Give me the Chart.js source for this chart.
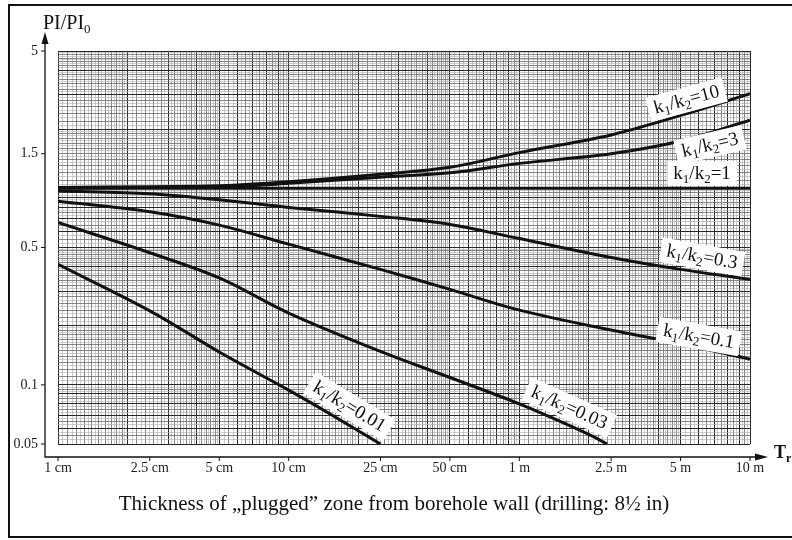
<!DOCTYPE html>
<html>
<head>
<meta charset="utf-8">
<script src="https://cdn.jsdelivr.net/npm/chart.js@4.4.1/dist/chart.umd.min.js"></script>
<style>
    html, body { margin: 0; padding: 0; background: #fff; }
    #wrap { width: 792px; height: 540px; position: relative; }
</style>
</head>
<body>
<div id="wrap"><canvas id="piChart"></canvas></div>
<script>
// Thickness of plugged zone (m)
const thickness = [0.01, 0.025, 0.05, 0.1, 0.25, 0.5, 1, 2.5, 5, 10];
const thickness003 = [0.01, 0.025, 0.05, 0.1, 0.25, 0.5, 1, 2, 2.4];
const thickness001 = [0.01, 0.025, 0.05, 0.1, 0.15, 0.25];

// PI/PI0, one array per k1/k2
const ratio10 = [1.01, 1.02, 1.03, 1.08, 1.18, 1.28, 1.52, 1.87, 2.35, 3.03];
const ratio3 = [1.005, 1.01, 1.015, 1.06, 1.14, 1.2, 1.34, 1.5, 1.74, 2.22];
const ratio1 = [1, 1, 1, 1, 1, 1, 1, 1, 1, 1];
const ratio03 = [0.97, 0.94, 0.875, 0.8, 0.72, 0.655, 0.555, 0.445, 0.387, 0.344];
const ratio01 = [0.86, 0.76, 0.65, 0.52, 0.387, 0.306, 0.24, 0.19, 0.162, 0.135];
const ratio003 = [0.67, 0.47, 0.35, 0.232, 0.148, 0.109, 0.08, 0.056, 0.05];
const ratio001 = [0.41, 0.238, 0.147, 0.094, 0.0715, 0.05];

// Axis tick labels
const xTickValues = [0.01, 0.025, 0.05, 0.1, 0.25, 0.5, 1, 2.5, 5, 10];
const xTickLabels = ['1 cm', '2.5 cm', '5 cm', '10 cm', '25 cm', '50 cm', '1 m', '2.5 m', '5 m', '10 m'];
const yTickValues = [0.05, 0.1, 0.5, 1.5, 5];
const yTickLabels = ['0.05', '0.1', '0.5', '1.5', '5'];

// Where the k1/k2 labels sit (data coords) and their tilt
const curveLabels = [
    { name: '10', x: 5.3, y: 2.84, angle: -15 },
    { name: '3', x: 6.7, y: 1.67, angle: -13 },
    { name: '1', x: 6.2, y: 1.2, angle: 0 },
    { name: '0.3', x: 6.2, y: 0.45, angle: 10 },
    { name: '0.1', x: 6.0, y: 0.177, angle: 10 },
    { name: '0.03', x: 1.65, y: 0.077, angle: 24 },
    { name: '0.01', x: 0.184, y: 0.078, angle: 31 }
];

const serif = "'Liberation Serif', 'DejaVu Serif', serif";

// log paper lines: integer mantissa = major, then medium and fine steps
function logGrid(min, max) {
    const vals = new Set();
    for (let e = Math.floor(Math.log10(min)); e < Math.ceil(Math.log10(max)); e++) {
        const base = Math.pow(10, e);
        let m = 1;
        while (m < 10 - 1e-9) {
            vals.add(+(m * base).toPrecision(8));
            const step = m < 2 - 1e-9 ? 0.05 : (m < 5 - 1e-9 ? 0.1 : 0.25);
            m = +(m + step).toFixed(4);
        }
    }
    vals.add(max);
    return [...vals].filter(v => v >= min * (1 - 1e-9) && v <= max * (1 + 1e-9)).sort((a, b) => a - b);
}

function gridLevel(v) {
    const m = v / Math.pow(10, Math.floor(Math.log10(v) + 1e-9));
    if (Math.abs(m - Math.round(m)) < 1e-6) return 0;
    const step = m < 2 ? 0.1 : (m < 5 ? 0.2 : 0.5);
    if (Math.abs(m / step - Math.round(m / step)) < 1e-6) return 1;
    return 2;
}

function labelFor(v, values, labels) {
    const i = values.findIndex(t => Math.abs(v / t - 1) < 1e-6);
    return i >= 0 ? labels[i] : '';
}

const xGrid = logGrid(0.01, 10);
const yGrid = logGrid(0.05, 5);

function gridOpts() {
    return {
        drawTicks: false,
        color: ctx => ['#262626', '#6a6a6a', '#ababab'][gridLevel(ctx.tick.value)],
        lineWidth: ctx => [1, 0.8, 0.6][gridLevel(ctx.tick.value)]
    };
}

function curve(xs, ys) {
    return {
        data: xs.map((x, i) => ({ x: x, y: ys[i] })),
        borderColor: '#111',
        borderWidth: 3,
        pointRadius: 0,
        fill: false,
        tension: 0.35
    };
}

function measureParts(ctx, parts, size) {
    let w = 0;
    parts.forEach(p => {
        ctx.font = (p[1] ? 13 : size) + 'px ' + serif;
        p.w = ctx.measureText(p[0]).width;
        w += p.w;
    });
    return w;
}

const decor = {
    id: 'decor',
    afterDatasetsDraw(chart) {
        const { ctx, scales: { x, y } } = chart;
        curveLabels.forEach(l => {
            const parts = [['k', 0], ['1', 1], ['/k', 0], ['2', 1], ['=' + l.name, 0]];
            const w = measureParts(ctx, parts, 19);
            ctx.save();
            ctx.translate(x.getPixelForValue(l.x), y.getPixelForValue(l.y));
            ctx.rotate(l.angle * Math.PI / 180);
            ctx.fillStyle = '#fff';
            ctx.fillRect(-w / 2 - 6, -12, w + 12, 25);
            ctx.fillStyle = '#111';
            ctx.textBaseline = 'alphabetic';
            let cx = -w / 2;
            parts.forEach(p => {
                ctx.font = (p[1] ? 13 : 19) + 'px ' + serif;
                ctx.fillText(p[0], cx, p[1] ? 10 : 6);
                cx += p.w;
            });
            ctx.restore();
        });
    },
    afterDraw(chart) {
        const { ctx, chartArea: a, scales: { x, y } } = chart;
        const ax = a.left - 13, ay = a.bottom + 13;
        ctx.save();
        // outer frame
        ctx.strokeStyle = '#111';
        ctx.lineWidth = 2;
        ctx.strokeRect(9, 5, 820, 532);

        // axes with arrows
        ctx.lineWidth = 1.3;
        ctx.beginPath();
        ctx.moveTo(ax, 40);
        ctx.lineTo(ax, ay);
        ctx.lineTo(760, ay);
        ctx.stroke();
        ctx.fillStyle = '#111';
        ctx.beginPath();
        ctx.moveTo(ax, 32); ctx.lineTo(ax - 3.5, 44); ctx.lineTo(ax + 3.5, 44);
        ctx.fill();
        ctx.beginPath();
        ctx.moveTo(768, ay); ctx.lineTo(755, ay - 3.5); ctx.lineTo(755, ay + 3.5);
        ctx.fill();

        ctx.lineWidth = 1;
        ctx.beginPath();
        yTickValues.forEach(v => {
            const py = y.getPixelForValue(v);
            ctx.moveTo(ax - 4, py); ctx.lineTo(ax, py);
        });
        xTickValues.forEach(v => {
            const px = x.getPixelForValue(v);
            ctx.moveTo(px, ay); ctx.lineTo(px, ay + 4);
        });
        ctx.stroke();

        // y title PI/PI0
        ctx.textBaseline = 'alphabetic';
        ctx.textAlign = 'left';
        ctx.font = '20px ' + serif;
        ctx.fillText('PI/PI', 43, 29);
        const tw = ctx.measureText('PI/PI').width;
        ctx.font = '13px ' + serif;
        ctx.fillText('0', 43 + tw, 33);

        // x title Tr
        ctx.font = 'bold 18px ' + serif;
        ctx.fillText('T', 774, 458);
        const t2 = ctx.measureText('T').width;
        ctx.font = 'bold 12px ' + serif;
        ctx.fillText('r', 774 + t2, 462);

        // caption
        ctx.font = '21px ' + serif;
        ctx.textAlign = 'center';
        ctx.fillText('Thickness of \u201Eplugged\u201D zone from borehole wall (drilling: 8\u00BD in)', 394, 510);
        ctx.restore();
    }
};

new Chart(document.getElementById('piChart'), {
    type: 'line',
    data: {
        datasets: [
            curve(thickness, ratio10),
            curve(thickness, ratio3),
            curve(thickness, ratio1),
            curve(thickness, ratio03),
            curve(thickness, ratio01),
            curve(thickness003, ratio003),
            curve(thickness001, ratio001)
        ]
    },
    options: {
        responsive: true,
        maintainAspectRatio: false,
        animation: false,
        layout: { padding: { top: 51, right: 42, left: 0, bottom: 0 } },
        plugins: {
            legend: { display: false },
            tooltip: { enabled: false }
        },
        scales: {
            x: {
                type: 'logarithmic',
                min: 0.01,
                max: 10,
                afterBuildTicks: s => { s.ticks = xGrid.map(v => ({ value: v })); },
                afterFit: s => { s.height = 96; },
                grid: gridOpts(),
                border: { display: false },
                ticks: {
                    autoSkip: false,
                    maxRotation: 0,
                    minRotation: 0,
                    padding: 16,
                    color: '#222',
                    font: { family: serif, size: 14 },
                    callback: v => labelFor(v, xTickValues, xTickLabels)
                }
            },
            y: {
                type: 'logarithmic',
                min: 0.05,
                max: 5,
                afterBuildTicks: s => { s.ticks = yGrid.map(v => ({ value: v })); },
                afterFit: s => { s.width = 58; },
                grid: gridOpts(),
                border: { display: false },
                ticks: {
                    autoSkip: false,
                    padding: 20,
                    color: '#222',
                    font: { family: serif, size: 14 },
                    callback: v => labelFor(v, yTickValues, yTickLabels)
                }
            }
        }
    },
    plugins: [decor]
});
</script>
</body>
</html>
